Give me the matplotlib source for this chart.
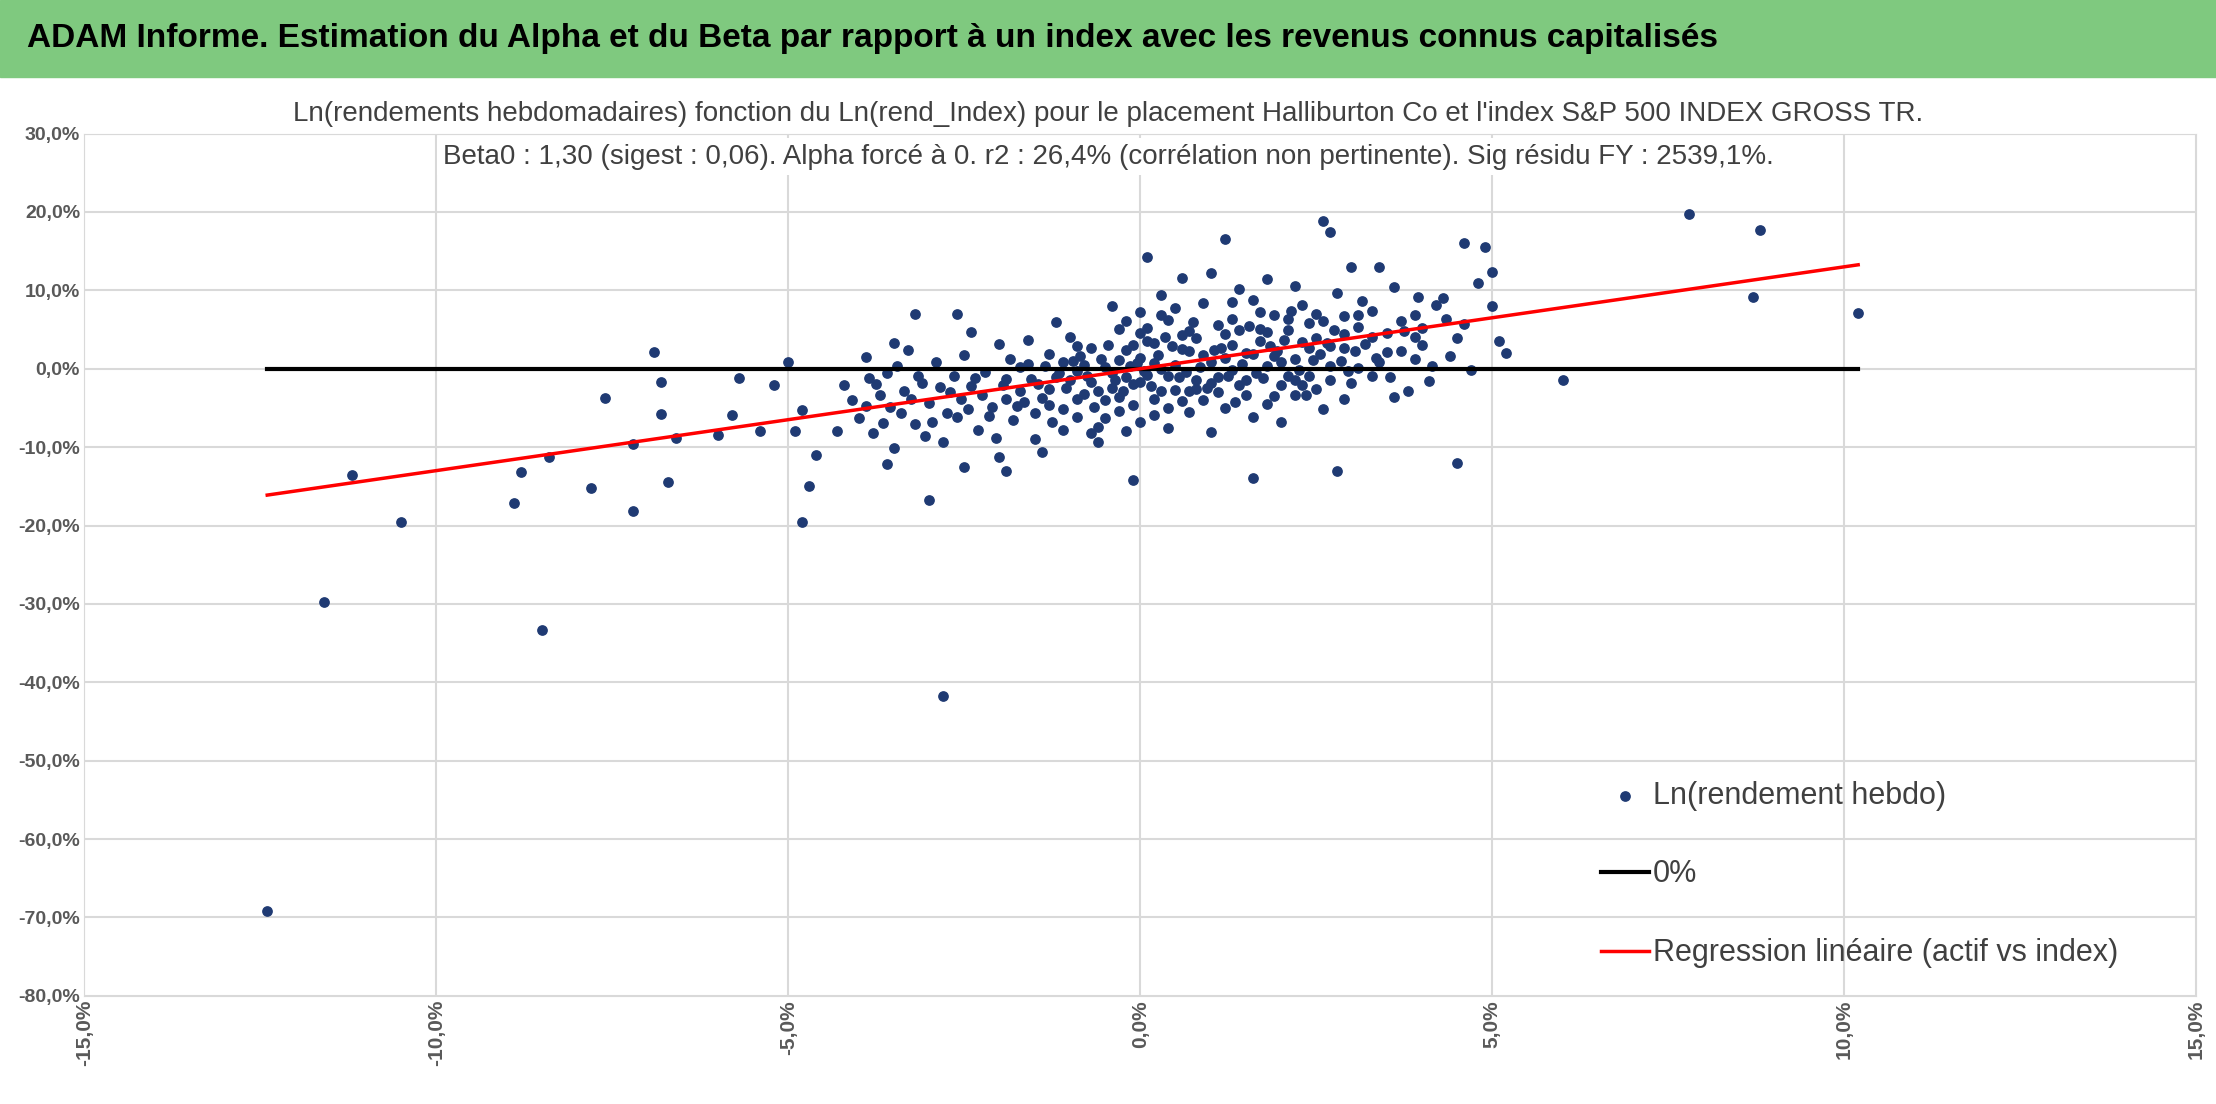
import matplotlib.pyplot as plt
from matplotlib.patches import Rectangle

plt.rcParams['font.family'] = ['Liberation Sans', 'DejaVu Sans']

# weekly log returns (%) : index (x) vs asset (y)
pts = """
-12.4,-69.2 -11.6,-29.8 -10.5,-19.6 -11.2,-13.5 -8.5,-33.3 -8.8,-13.2 -8.9,-17.1 -8.4,-11.2
-7.8,-15.2 -7.6,-3.7 -7.2,-18.2 -7.2,-9.6 -6.9,2.1 -6.8,-1.7 -6.8,-5.8 -6.7,-14.4 -6.6,-8.9
-6.0,-8.4 -5.8,-5.9 -5.7,-1.2 -5.4,-8.0 -5.2,-2.1 -5.0,0.8 -4.8,-19.6 -4.7,-14.9 -4.8,-5.3
-4.9,-7.9 -2.8,-41.7 -3.0,-16.7 7.8,19.8 8.8,17.7 8.7,9.2 10.2,7.1 6.0,-1.5 4.5,-12.0 4.6,16.0
4.9,15.5 5.0,12.3 5.2,2.0 2.6,18.8 2.7,17.5 1.2,16.6 0.1,14.3 3.0,13.0 -3.2,7.0 -2.6,7.0
2.8,-13.1 1.6,-14.0 -0.1,-14.2 -4.6,-11.0 -2.5,-12.6 -1.9,-13.0 5.0,8.0 5.1,3.5 4.7,-0.1
4.0,5.2 4.3,9.0 3.4,13.0
-4.2,-2.1 -4.0,-6.3 -3.9,1.5 -3.8,-8.2 -3.7,-3.4 -3.6,-0.5 -3.5,-10.1 -3.4,-5.6 -3.3,2.4
-3.2,-7.1 -3.1,-1.8 -3.0,-4.4 -2.9,0.9 -2.8,-9.3 -2.7,-3.0 -2.6,-6.2 -2.5,1.8 -2.4,-2.2
-2.3,-7.8 -2.2,-0.4 -2.1,-4.9 -2.0,3.1 -1.9,-1.3 -1.8,-6.5 -1.7,-2.8 -1.6,0.6 -1.5,-9.0
-1.4,-3.7 -1.3,1.9 -1.2,-1.1 -1.1,-5.2 -1.0,4.0 -0.9,-0.3 -0.8,-3.2 -0.7,2.6 -0.6,-7.4
-0.5,0.2 -0.4,-2.4 -0.3,5.1 -0.2,-1.0 -0.1,-4.6 0.0,1.4 0.1,-0.8 0.2,3.3 0.3,-2.9 0.4,6.2
0.5,0.5 0.6,-4.1 0.7,2.2 0.8,-1.5 0.9,8.4 1.0,0.9 1.1,-3.0 1.2,4.4 1.3,-0.2 1.4,10.2 1.5,2.0
1.6,-6.1 1.7,3.6 1.8,0.3 1.9,6.8 2.0,-2.1 2.1,4.9 2.2,1.2 2.3,8.1 2.4,-0.9 2.5,3.9 2.6,6.1
2.7,0.4 2.8,9.6 2.9,2.7 3.0,-1.8 3.1,5.3 3.2,3.1 3.3,7.4 3.4,0.8 3.5,4.6 3.6,10.4 3.7,2.2
3.8,-2.9 3.9,6.9 4.0,3.0 4.2,8.1 4.4,1.6 4.6,5.7 4.8,11.0
-4.1,-4.0 -3.85,-1.2 -3.65,-6.9 -3.45,0.3 -3.25,-3.8 -3.05,-8.6 -2.85,-2.3 -2.65,-0.9
-2.45,-5.1 -2.25,-3.3 -2.05,-8.9 -1.85,1.2 -1.65,-4.3 -1.45,-1.9 -1.25,-6.8 -1.05,-2.5
-0.85,1.6 -0.65,-4.9 -0.45,3.0 -0.25,-2.9 -0.05,0.7 0.15,-2.2 0.35,4.1 0.55,-1.1 0.75,6.0
0.95,-2.4 1.15,2.7 1.35,-4.3 1.55,5.5 1.75,-1.2 1.95,2.3 2.15,7.4 2.35,-3.4 2.55,1.9
2.75,5.0 2.95,-0.3 3.15,8.6 3.35,1.4 3.55,-1.0 3.75,4.8 3.95,9.1 4.15,0.4 4.35,6.3
-1.9,-3.9 -1.7,0.2 -1.5,-5.6 -1.3,-2.6 -1.1,0.8 -0.9,-6.1 -0.7,-1.7 -0.5,-4.0 -0.3,1.1
-0.1,-2.0 0.1,3.5 0.3,0.0 0.5,-2.7 0.7,4.8 0.9,1.7 1.1,-1.1 1.3,3.0 1.5,-3.3 1.7,7.2
1.9,1.6 2.1,-0.9 2.3,3.4 2.5,-2.6 2.7,2.9 2.9,6.7 3.1,0.1 3.3,4.1 -1.0,-1.5 -0.8,0.5
-0.6,-2.8 -0.4,-0.6 -0.2,2.4 0.0,-1.7 0.2,0.7 0.4,-0.9 0.6,2.5 0.8,3.9 1.0,-1.8 1.2,1.4
1.4,-2.1 1.6,1.9 1.8,4.7 2.0,0.8 2.2,-1.5 2.4,2.6 0.0,4.6 -0.2,6.1 0.3,9.4 0.6,11.6 -0.4,8.0
1.0,12.2 1.8,11.4 2.2,10.6 -0.6,-9.4 -1.4,-10.6 0.4,-7.6 1.0,-8.1 2.0,-6.8 2.6,-5.2
-2.0,-11.2 -3.6,-12.2 -4.3,-8.0 -3.9,-4.7 3.6,-3.6 4.1,-1.6 -1.2,5.9 -2.4,4.7 -3.5,3.3
0.2,-5.9 -0.9,2.9 1.3,6.4 0.7,-5.5 1.6,8.8 -1.6,3.7 2.4,5.8 2.9,-3.9 3.9,1.2 4.5,3.9
-1.15,-0.6 -0.95,1.0 -0.75,-0.9 -0.55,1.3 -0.35,-1.4 -0.15,0.3 0.05,-0.3 0.25,1.7 0.45,2.9
0.65,-0.4 0.85,0.2 1.05,2.4 1.25,-0.9 1.45,0.6 1.65,-0.5 1.85,2.9 2.05,3.7 2.25,-0.2
2.45,1.1 2.65,3.3 2.85,1.0 3.05,2.2 -1.35,0.4 -1.55,-1.3 -1.75,-4.7 -1.95,-2.1 -2.15,-6.0
-2.35,-1.2 -2.55,-3.8 -2.75,-5.6 -2.95,-6.8 -3.15,-0.9 -3.35,-2.8 -3.55,-4.9 -3.75,-1.9
0.1,5.2 0.3,6.9 0.5,7.8 0.7,-2.9 0.9,-4.0 1.1,5.6 1.3,8.5 1.5,-1.5 1.7,5.1 1.9,-3.5
2.1,6.3 2.3,-2.1 2.5,7.0 2.7,-1.4 2.9,4.4 3.1,6.9 3.3,-0.9 3.5,2.1 3.7,6.1 3.9,4.1
-0.3,-5.4 -0.5,-6.3 -0.7,-8.2 -0.9,-3.8 -1.1,-7.8 -1.3,-4.6 0.2,-3.8 0.4,-5.0 -0.1,3.0
-0.3,-3.6 0.6,4.3 0.8,-2.6 1.2,-5.0 1.4,4.9 1.8,-4.5 2.2,-3.4 0.0,-6.8 -0.2,-8.0 0.0,7.2
"""
pairs = [p.split(',') for p in pts.split()]
idx_ret = [float(a) for a, b in pairs]
asset_ret = [float(b) for a, b in pairs]

beta = 1.30
line_x = [-12.4, 10.2]

fig = plt.figure(figsize=(22.16, 11.04), dpi=100)
fig.patches.append(Rectangle((0, 0.93), 1, 0.07, transform=fig.transFigure,
                             color='#7fc97f', zorder=0))
fig.text(0.012, 0.965, "ADAM Informe. Estimation du Alpha et du Beta par rapport à un index avec les revenus connus capitalisés",
         fontsize=24, fontweight='bold', va='center')

ax = fig.add_axes([0.038, 0.098, 0.953, 0.781])
ax.scatter(idx_ret, asset_ret, s=45, color='#1f3a73', zorder=3, label='Ln(rendement hebdo)')
ax.plot(line_x, [0, 0], color='black', lw=3, zorder=4, label='0%')
ax.plot(line_x, [beta * v for v in line_x], color='red', lw=2.5, zorder=5,
        label='Regression linéaire (actif vs index)')

ax.set_xlim(-15, 15)
ax.set_ylim(-80, 30)
ax.set_xticks(range(-15, 16, 5))
ax.set_yticks(range(-80, 31, 10))
ax.set_xticklabels([f"{v:.1f}%".replace('.', ',') for v in range(-15, 16, 5)],
                   rotation=90, fontsize=15, fontweight='bold', color='#595959')
ax.set_yticklabels([f"{v:.1f}%".replace('.', ',') for v in range(-80, 31, 10)],
                   fontsize=14, fontweight='bold', color='#595959')
ax.grid(color='#d9d9d9', lw=1.5)
ax.set_axisbelow(True)
for s in ax.spines.values():
    s.set_color('#d9d9d9')
ax.tick_params(length=0, pad=3)

fig.text(0.5, 0.897, "Ln(rendements hebdomadaires) fonction du Ln(rend_Index) pour le placement Halliburton Co et l'index S&P 500 INDEX GROSS TR.",
         ha='center', va='center', fontsize=20, color='#404040',
         bbox=dict(facecolor='white', edgecolor='none'))
fig.text(0.5, 0.858, "Beta0 : 1,30 (sigest : 0,06). Alpha forcé à 0. r2 : 26,4% (corrélation non pertinente). Sig résidu FY : 2539,1%.",
         ha='center', va='center', fontsize=20, color='#404040',
         bbox=dict(facecolor='white', edgecolor='none'))

ax.legend(loc='lower left', bbox_to_anchor=(0.705, 0.0), frameon=False, fontsize=22,
          labelspacing=1.6, handlelength=1.6, handletextpad=0.1, labelcolor='#404040')

fig.savefig('out.png')
